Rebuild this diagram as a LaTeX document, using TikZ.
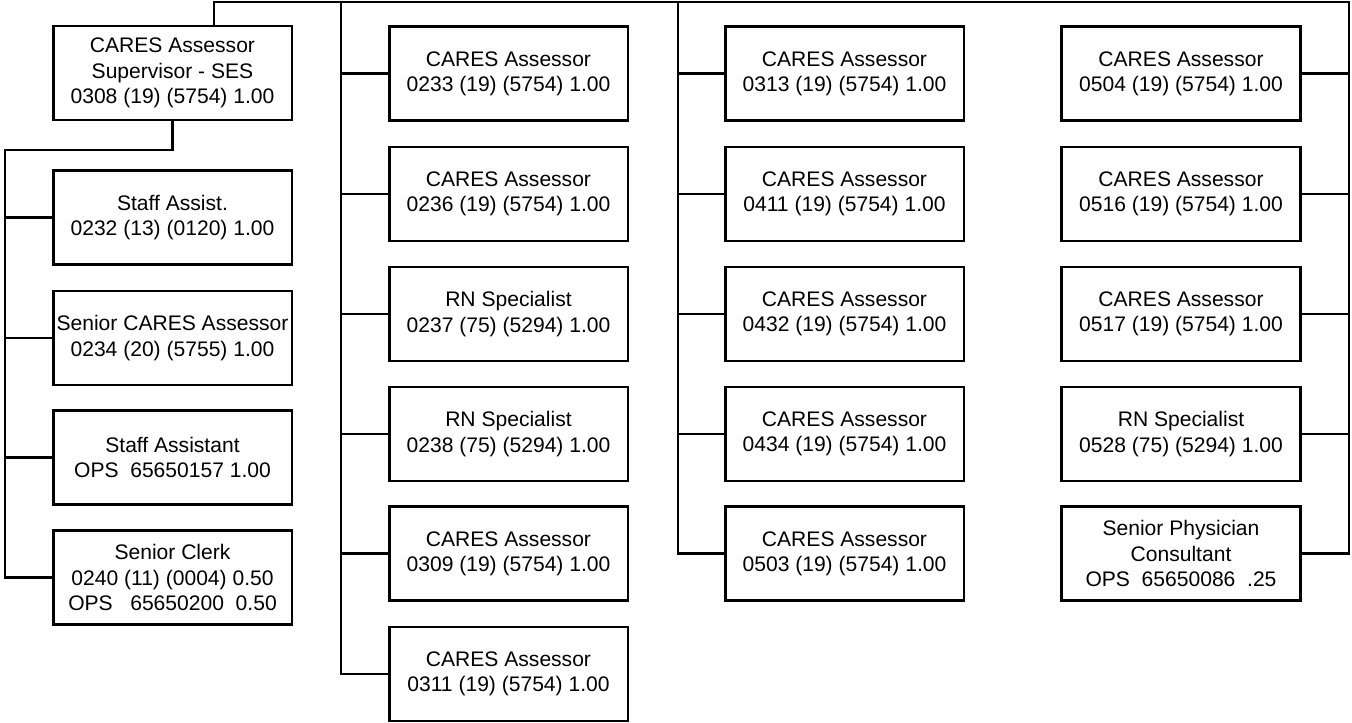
\documentclass[tikz,border=0pt]{standalone}
\usepackage{fontspec}
\setmainfont{Liberation Sans}
\begin{document}
\begin{tikzpicture}[x=0.75pt,y=-0.75pt,
  post/.style={draw=black,line width=2pt,fill=white,minimum width=179pt,minimum height=70.5pt,
    inner sep=0pt,align=center,font=\fontsize{15.8pt}{18.9pt}\selectfont},
  wire/.style={draw=black,line width=1.7pt,line join=miter}]
\useasboundingbox (0,0) rectangle (1352,723);

% supervisor and direct staff
\node[post] (sup) at (172.5,73) {CARES Assessor\\Supervisor - SES\\0308 (19) (5754) 1.00};
\node[post] (a1) at (172.5,217.5) {Staff Assist.\\0232 (13) (0120) 1.00};
\node[post] (a2) at (172.5,338) {Senior CARES Assessor\\0234 (20) (5755) 1.00};
\node[post] (a3) at (172.5,457.5) {Staff Assistant\\OPS\ \ 65650157 1.00};
\node[post] (a4) at (172.5,577.5) {Senior Clerk\\0240 (11) (0004) 0.50\\OPS\ \ \ 65650200\ \ 0.50};

% second column
\node[post] (b1) at (508.5,73.5) {CARES Assessor\\0233 (19) (5754) 1.00};
\node[post] (b2) at (508.5,194) {CARES Assessor\\0236 (19) (5754) 1.00};
\node[post] (b3) at (508.5,314) {RN Specialist\\0237 (75) (5294) 1.00};
\node[post] (b4) at (508.5,434) {RN Specialist\\0238 (75) (5294) 1.00};
\node[post] (b5) at (508.5,553.5) {CARES Assessor\\0309 (19) (5754) 1.00};
\node[post] (b6) at (508.5,674) {CARES Assessor\\0311 (19) (5754) 1.00};

% third column
\node[post] (c1) at (844.5,73.5) {CARES Assessor\\0313 (19) (5754) 1.00};
\node[post] (c2) at (844.5,194) {CARES Assessor\\0411 (19) (5754) 1.00};
\node[post] (c3) at (844.5,314) {CARES Assessor\\0432 (19) (5754) 1.00};
\node[post] (c4) at (844.5,434) {CARES Assessor\\0434 (19) (5754) 1.00};
\node[post] (c5) at (844.5,553.5) {CARES Assessor\\0503 (19) (5754) 1.00};

% fourth column
\node[post] (d1) at (1181,73.5) {CARES Assessor\\0504 (19) (5754) 1.00};
\node[post] (d2) at (1181,194) {CARES Assessor\\0516 (19) (5754) 1.00};
\node[post] (d3) at (1181,314) {CARES Assessor\\0517 (19) (5754) 1.00};
\node[post] (d4) at (1181,434) {RN Specialist\\0528 (75) (5294) 1.00};
\node[post] (d5) at (1181,553.5) {Senior Physician\\Consultant\\OPS\ \ 65650086\ \ .25};

% trunk coordinates
\coordinate (tl) at (214,1.8);
\coordinate (tb) at (341,1.8);
\coordinate (tc) at (678,1.8);
\coordinate (td) at (1349,1.8);
\coordinate (ta) at (5,150);

% top bus
\draw[wire] (tl |- sup.north) -- (tl) -- (td) |- (d5.east);
\draw[wire] (tb) |- (b6.west);
\draw[wire] (tc) |- (c5.west);
\draw[wire] (sup.south) |- (ta) |- (a4.west);

% branches
\foreach \n in {a1,a2,a3} \draw[wire] (\n.west) -- (\n.west -| ta);
\foreach \n in {b1,b2,b3,b4,b5} \draw[wire] (\n.west) -- (\n.west -| tb);
\foreach \n in {c1,c2,c3,c4} \draw[wire] (\n.west) -- (\n.west -| tc);
\foreach \n in {d1,d2,d3,d4} \draw[wire] (\n.east) -- (\n.east -| td);
\end{tikzpicture}
\end{document}
